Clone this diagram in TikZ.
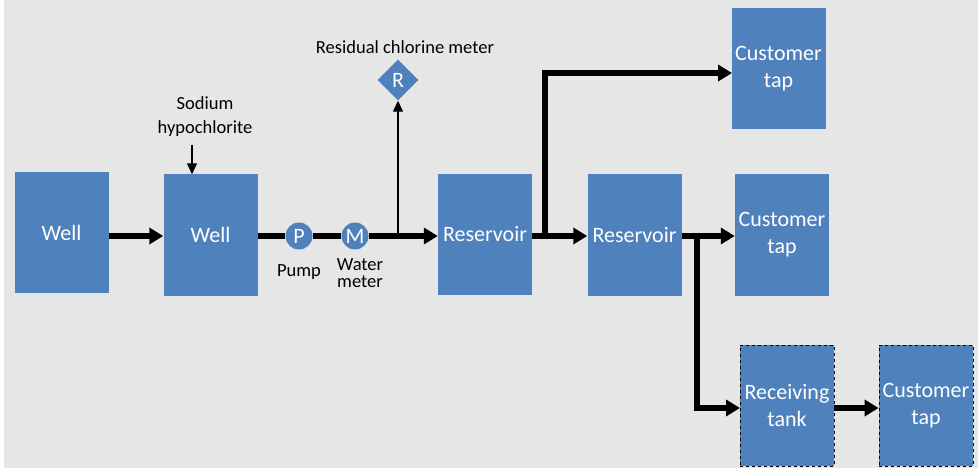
\documentclass[tikz,border=0pt]{standalone}
\usepackage{fontspec}
\setmainfont{Carlito}
\definecolor{bgGrey}{HTML}{E7E6E6}
\definecolor{boxBlue}{HTML}{4F81BD}
\usetikzlibrary{arrows.meta,positioning,shapes.geometric}
\tikzset{
  unit/.style={fill=boxBlue,draw=none,minimum width=94pt,minimum height=121pt,
    align=center,text=white,font=\fontsize{22}{27}\selectfont},
  dunit/.style={unit,draw=black,dashed,line width=0.8pt},
  instr/.style={circle,fill=boxBlue,minimum size=27pt,inner sep=0pt,text=white,
    font=\fontsize{22}{27}\selectfont},
  probe/.style={diamond,fill=boxBlue,minimum size=41pt,inner sep=0pt,text=white,
    font=\fontsize{22}{27}\selectfont},
  lbl/.style={align=center,font=\fontsize{18.5}{24}\selectfont},
  pipe/.style={line width=5.5pt,-{Triangle[length=14pt,width=16pt]}},
  pipen/.style={line width=5.5pt},
  signal/.style={line width=1.3pt,-{Triangle[length=11pt,width=10pt]}}}

\begin{document}
\begin{tikzpicture}[x=1pt,y=-1pt]
  \useasboundingbox (0,0) rectangle (978,468);
  \fill[bgGrey] (4,0) rectangle (978,468);
  % treatment line
  \node[unit] (well1) at (61.5,232.5) {Well};
  \node[unit] (well2) at (210.5,235) {Well};
  \node[instr] (pump) at (299,236) {P};
  \node[instr] (meter) at (355,236) {M};
  \node[unit] (res1) at (485,234.5) {Reservoir};
  \node[unit] (res2) at (634.5,235) {Reservoir};
  \node[probe] (cl) at (398,80) {R};
  % customers
  \node[unit] (tap1) at (778.5,68.5) {Customer\\tap};
  \node[unit] (tap2) at (782,235) {Customer\\tap};
  \node[dunit] (recv) at (787,405.5) {Receiving\\tank};
  \node[dunit] (tap3) at (926,405.5) {Customer\\tap};
  % labels
  \node[lbl] (naocl) at (205,117) {Sodium\\hypochlorite};
  \node[lbl] (pumplbl) at (299,272) {Pump};
  \node[lbl,font=\fontsize{18.5}{17}\selectfont] (meterlbl) at (360,273) {Water\\meter};
  \node[lbl] (cllbl) at (405,47) {Residual chlorine meter};
  % pipes
  \coordinate (tee1) at (cl |- pump);
  \draw[pipe] (well1.east |- pump) -- (well2.west |- pump);
  \draw[pipen] (well2.east |- pump) -- (pump.west);
  \draw[pipen] (pump.east) -- (meter.west);
  \draw[pipe] (meter.east) -- (res1.west |- pump);
  \draw[signal] (tee1) -- (cl.south);
  \coordinate (dose) at (192,145);
  \draw[signal] (dose) -- (dose |- well2.north);
  \draw[pipe] (res1.east |- tee1) -- (res2.west |- tee1);
  \coordinate (tee2) at (545,236);
  \coordinate (tap1in) at (732,73);
  \draw[pipe] (tee2) |- (tap1in);
  \draw[pipe] (res2.east |- tee1) -- (tap2.west |- tee1);
  \coordinate (tee3) at (697,236);
  \coordinate (recvin) at (740,408);
  \draw[pipe] (tee3) |- (recvin);
  \draw[pipe] (recv.east |- recvin) -- (tap3.west |- recvin);
\end{tikzpicture}
\end{document}
